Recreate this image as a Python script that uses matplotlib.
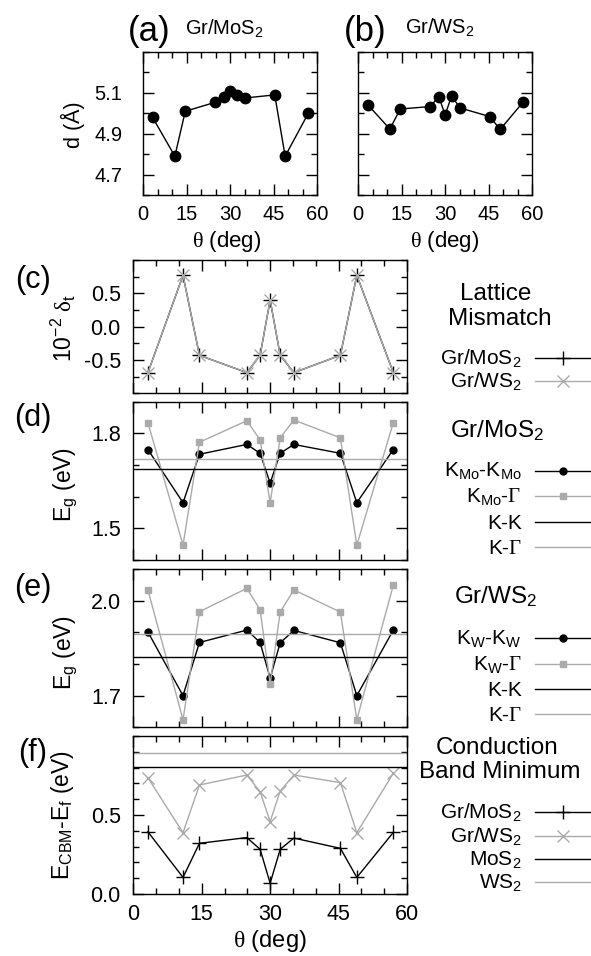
import matplotlib
matplotlib.use('Agg')
import matplotlib.pyplot as plt
from matplotlib.lines import Line2D
from matplotlib.ticker import MultipleLocator, FixedLocator, FormatStrFormatter

plt.rcParams['font.family'] = ['Liberation Sans', 'DejaVu Sans']
plt.rcParams['mathtext.fontset'] = 'custom'
plt.rcParams['mathtext.rm'] = 'Liberation Sans'
plt.rcParams['mathtext.it'] = 'Liberation Sans:italic'
plt.rcParams['mathtext.sf'] = 'Liberation Serif'
plt.rcParams['axes.unicode_minus'] = False

GRAY = '#aaaaaa'
W, H = 591, 956

# twist angles (deg)
theta = [3.2, 10.9, 14.5, 24.9, 27.8, 30.0, 32.2, 35.2, 45.4, 49.0, 57.0]

# interlayer distance (A)
d_mos2 = [4.98, 4.79, 5.01, 5.054, 5.079, 5.108, 5.089, 5.075, 5.09, 4.79, 5.00]
d_ws2 = [5.043, 4.923, 5.021, 5.033, 5.082, 4.992, 5.084, 5.026, 4.984, 4.921, 5.056]

# lattice mismatch (10^-2)
mis_mos2 = [-0.69, 0.77, -0.43, -0.69, -0.43, 0.40, -0.43, -0.69, -0.43, 0.77, -0.69]
mis_ws2 = [-0.69, 0.77, -0.43, -0.69, -0.43, 0.40, -0.43, -0.69, -0.43, 0.77, -0.69]

# band gaps (eV)
eg_kk_mo = [1.749, 1.581, 1.734, 1.765, 1.737, 1.643, 1.737, 1.765, 1.737, 1.581, 1.749]
eg_kg_mo = [1.834, 1.447, 1.772, 1.840, 1.779, 1.581, 1.786, 1.842, 1.786, 1.447, 1.834]
ref_kk_mos2, ref_kg_mos2 = 1.687, 1.719

eg_kk_w = [1.901, 1.700, 1.868, 1.907, 1.868, 1.755, 1.867, 1.906, 1.867, 1.700, 1.907]
eg_kg_w = [2.034, 1.624, 1.965, 2.039, 1.971, 1.737, 1.964, 2.034, 1.964, 1.624, 2.049]
ref_kk_ws2, ref_kg_ws2 = 1.821, 1.895

# conduction band minimum (eV)
cbm_mos2 = [0.394, 0.105, 0.321, 0.357, 0.283, 0.068, 0.283, 0.354, 0.289, 0.105, 0.390]
cbm_ws2 = [0.736, 0.388, 0.690, 0.753, 0.647, 0.458, 0.652, 0.753, 0.705, 0.388, 0.764]
ref_cbm_mos2, ref_cbm_ws2 = 0.806, 0.890


fig = plt.figure(figsize=(W / 100, H / 100), dpi=100)


def add_ax(l, t, r, b):
    return fig.add_axes([l / W, 1 - b / H, (r - l) / W, (b - t) / H])


def style(ax, ylim, ymajor, ystep, xlabels=True, ylabels=True, ypad=9, xpad=7, fs=13):
    ax.set_xlim(0, 60)
    ax.set_ylim(*ylim)
    ax.xaxis.set_major_locator(MultipleLocator(15))
    ax.xaxis.set_minor_locator(MultipleLocator(5))
    ax.yaxis.set_major_locator(FixedLocator(ymajor))
    ax.yaxis.set_minor_locator(MultipleLocator(ystep))
    ax.yaxis.set_major_formatter(FormatStrFormatter('%.1f'))
    ax.tick_params(which='both', direction='in', top=True, right=True, width=1)
    ax.tick_params(which='major', length=8)
    ax.tick_params(which='minor', length=4)
    ax.tick_params(axis='y', pad=ypad, labelsize=fs, labelleft=ylabels)
    ax.tick_params(axis='x', pad=xpad, labelsize=fs, labelbottom=xlabels)
    for s in ax.spines.values():
        s.set_linewidth(1)


def ftext(x, y, s, **kw):
    return fig.text(x / W, 1 - y / H, s, **kw)


def legend_row(y, label, src):
    ftext(521.7, y + 6.5, label, ha='right', va='baseline', fontsize=15)
    fig.add_artist(Line2D([535 / W, 562.7 / W, 591 / W], [1 - y / H] * 3,
                          transform=fig.transFigure, color=src.get_color(),
                          lw=src.get_linewidth(), marker=src.get_marker(),
                          ms=src.get_markersize(), mew=src.get_markeredgewidth(),
                          markevery=[1]))


# (a) Gr/MoS2 interlayer distance
ax_a = add_ax(143.3, 52, 317, 195)
ax_a.plot(theta, d_mos2, color='k', lw=1, marker='o', ms=7.5)
style(ax_a, (4.6, 5.3), [4.7, 4.9, 5.1], 0.1, ypad=15, fs=14.5)
ftext(149, 32, '(a)', ha='center', va='center', fontsize=25)
ftext(185, 35, 'Gr/MoS$_2$', ha='left', va='baseline', fontsize=14.5)
ftext(73, 125, 'd (Å)', ha='center', va='center', rotation=90, fontsize=15.5)
ftext(227, 241, r'$\mathsf{\theta}$ (deg)', ha='center', va='center', fontsize=16)

# (b) Gr/WS2 interlayer distance
ax_b = add_ax(358.3, 52, 532, 195)
ax_b.plot(theta, d_ws2, color='k', lw=1, marker='o', ms=7.5)
style(ax_b, (4.6, 5.3), [4.7, 4.9, 5.1], 0.1, ylabels=False, fs=14.5)
ftext(365, 32, '(b)', ha='center', va='center', fontsize=25)
ftext(405, 34, 'Gr/WS$_2$', ha='left', va='baseline', fontsize=14.5)
ftext(445, 241, r'$\mathsf{\theta}$ (deg)', ha='center', va='center', fontsize=16)

L, R = 133.3, 407

# (c) lattice mismatch
ax_c = add_ax(L, 260, R, 393.3)
lc1, = ax_c.plot(theta, mis_mos2, color='k', lw=1, marker='+', ms=10, mew=1)
lc2, = ax_c.plot(theta, mis_ws2, color=GRAY, lw=1, marker='x', ms=8, mew=1)
style(ax_c, (-1, 1), [-0.5, 0.0, 0.5], 0.25, xlabels=False, fs=15.5)
ftext(33, 280, '(c)', ha='center', va='center', fontsize=22)
ftext(63, 328, r'10$^{-2}$ $\mathsf{\delta}_{\rm t}$', ha='center', va='center',
      rotation=90, fontsize=16.5)
ftext(496, 300, 'Lattice', ha='center', va='baseline', fontsize=17.5)
ftext(500, 325, 'Mismatch', ha='center', va='baseline', fontsize=17.5)
legend_row(358.3, 'Gr/MoS$_2$', lc1)
legend_row(380.7, 'Gr/WS$_2$', lc2)

# (d) Gr/MoS2 band gaps
ax_d = add_ax(L, 401.7, R, 560)
ld1, = ax_d.plot(theta, eg_kk_mo, color='k', lw=1, marker='o', ms=5)
ld2, = ax_d.plot(theta, eg_kg_mo, color=GRAY, lw=1, marker='s', ms=5)
ld3 = ax_d.axhline(ref_kk_mos2, color='k', lw=1)
ld4 = ax_d.axhline(ref_kg_mos2, color=GRAY, lw=1)
style(ax_d, (1.4, 1.9), [1.5, 1.8], 0.1, xlabels=False, fs=15.5)
ftext(33, 418, '(d)', ha='center', va='center', fontsize=22)
ftext(66, 484, 'E$_{\\rm g}$ (eV)', ha='center', va='center', rotation=90, fontsize=16.5)
ftext(497, 436.7, 'Gr/MoS$_2$', ha='center', va='baseline', fontsize=17.5)
legend_row(470.7, 'K$_{\\rm Mo}$-K$_{\\rm Mo}$', ld1)
legend_row(496, r'K$_{\rm Mo}$-$\mathsf{\Gamma}$', ld2)
legend_row(522.3, 'K-K', ld3)
legend_row(547.3, r'K-$\mathsf{\Gamma}$', ld4)

# (e) Gr/WS2 band gaps
ax_e = add_ax(L, 569, R, 727.3)
le1, = ax_e.plot(theta, eg_kk_w, color='k', lw=1, marker='o', ms=5)
le2, = ax_e.plot(theta, eg_kg_w, color=GRAY, lw=1, marker='s', ms=5)
le3 = ax_e.axhline(ref_kk_ws2, color='k', lw=1)
le4 = ax_e.axhline(ref_kg_ws2, color=GRAY, lw=1)
style(ax_e, (1.6, 2.1), [1.7, 2.0], 0.1, xlabels=False, fs=15.5)
ftext(33, 588, '(e)', ha='center', va='center', fontsize=22)
ftext(66, 652, 'E$_{\\rm g}$ (eV)', ha='center', va='center', rotation=90, fontsize=16.5)
ftext(496, 603, 'Gr/WS$_2$', ha='center', va='baseline', fontsize=17.5)
legend_row(637.7, 'K$_{\\rm W}$-K$_{\\rm W}$', le1)
legend_row(664, r'K$_{\rm W}$-$\mathsf{\Gamma}$', le2)
legend_row(689.3, 'K-K', le3)
legend_row(714.3, r'K-$\mathsf{\Gamma}$', le4)

# (f) conduction band minimum
ax_f = add_ax(L, 736, R, 894)
lf1, = ax_f.plot(theta, cbm_mos2, color='k', lw=1, marker='+', ms=10, mew=1)
lf2, = ax_f.plot(theta, cbm_ws2, color=GRAY, lw=1, marker='x', ms=8, mew=1)
lf3 = ax_f.axhline(ref_cbm_mos2, color='k', lw=1)
lf4 = ax_f.axhline(ref_cbm_ws2, color=GRAY, lw=1)
style(ax_f, (0, 1.0), [0.0, 0.5], 0.1, fs=15.5)
ftext(33, 753, '(f)', ha='center', va='center', fontsize=22)
ftext(63, 815, 'E$_{\\rm CBM}$-E$_{\\rm f}$ (eV)', ha='center', va='center',
      rotation=90, fontsize=16.5)
ftext(270, 941, r'$\mathsf{\theta}$ (deg)', ha='center', va='center', fontsize=17)
ftext(497, 754, 'Conduction', ha='center', va='baseline', fontsize=17.5)
ftext(500, 778, 'Band Minimum', ha='center', va='baseline', fontsize=17.5)
legend_row(811.7, 'Gr/MoS$_2$', lf1)
legend_row(836, 'Gr/WS$_2$', lf2)
legend_row(859, 'MoS$_2$', lf3)
legend_row(882.3, 'WS$_2$', lf4)

fig.savefig('out.png', dpi=100)
